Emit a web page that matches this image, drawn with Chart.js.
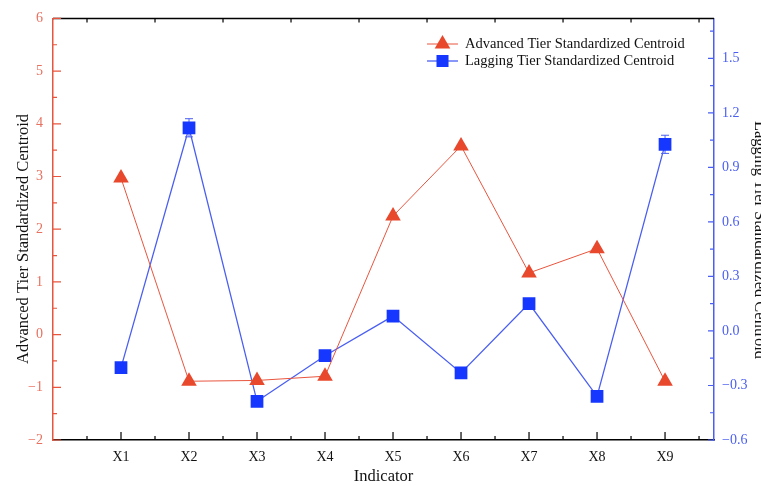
<!DOCTYPE html>
<html>
<head>
<meta charset="utf-8">
<script src="https://cdn.jsdelivr.net/npm/chart.js@4.4.1/dist/chart.umd.min.js"></script>
<style>
html,body{margin:0;padding:0;background:#fff;}
#wrap{width:761px;height:486px;position:relative;}
</style>
</head>
<body>
<div id="wrap"><canvas id="c"></canvas></div>
<script>
// ---- data ----
const categories = ['X1','X2','X3','X4','X5','X6','X7','X8','X9'];
const advancedValues = [2.97, -0.885, -0.87, -0.79, 2.25, 3.58, 1.17, 1.63, -0.885];
const laggingValues = [-0.202, 1.118, -0.387, -0.136, 0.082, -0.231, 0.151, -0.36, 1.027];
const laggingErrors = [0, 0.05, 0, 0, 0, 0, 0, 0, 0.05];
const leftTicks = [-2, -1, 0, 1, 2, 3, 4, 5, 6];
const rightTicks = [-0.6, -0.3, 0.0, 0.3, 0.6, 0.9, 1.2, 1.5];
const seriesNames = ['Advanced Tier Standardized Centroid', 'Lagging Tier Standardized Centroid'];
const axisTitles = {x: 'Indicator', left: 'Advanced Tier Standardized Centroid', right: 'Lagging Tier Standardized Centroid'};

const RED = '#e8553e', RED_PT = '#e8482c', RED_TXT = '#e8705e';
const BLUE = '#4a5ff2', BLUE_PT = '#1537ff', BLUE_TXT = '#4a5ef0';
const SERIF = '"Liberation Serif", "Times New Roman", serif';

const fmtMinus = s => String(s).replace('-', '\u2212');

const innerTicks = {
  id: 'innerTicks',
  beforeDatasetsDraw(chart) {
    // error bars (drawn under markers)
    const ctx = chart.ctx, x = chart.scales.x, yR = chart.scales.yR;
    ctx.save();
    ctx.strokeStyle = BLUE; ctx.lineWidth = 1;
    laggingValues.forEach((v, i) => {
      const e = laggingErrors[i];
      if (!e) return;
      const px = x.getPixelForValue(i + 1);
      const y1 = yR.getPixelForValue(v + e), y2 = yR.getPixelForValue(v - e);
      ctx.beginPath();
      ctx.moveTo(px, y1); ctx.lineTo(px, y2);
      ctx.moveTo(px - 4, y1); ctx.lineTo(px + 4, y1);
      ctx.moveTo(px - 4, y2); ctx.lineTo(px + 4, y2);
      ctx.stroke();
    });
    ctx.restore();
  },
  afterDraw(chart) {
    const ctx = chart.ctx;
    const {left, right, top, bottom} = chart.chartArea;
    const x = chart.scales.x, yL = chart.scales.yL, yR = chart.scales.yR;
    ctx.save();
    ctx.lineWidth = 1.5;
    // top border
    ctx.strokeStyle = '#000';
    ctx.beginPath(); ctx.moveTo(left, top); ctx.lineTo(right, top); ctx.stroke();
    // bottom ticks (inward)
    ctx.lineWidth = 1.2;
    ctx.beginPath();
    for (let i = 1; i <= categories.length; i++) {
      const px = x.getPixelForValue(i);
      ctx.moveTo(px, bottom); ctx.lineTo(px, bottom - 8);
    }
    for (let i = 0; i <= categories.length; i++) {
      const px = x.getPixelForValue(i + 0.5);
      ctx.moveTo(px, bottom); ctx.lineTo(px, bottom - 4);
      ctx.moveTo(px, top); ctx.lineTo(px, top + 4);
    }
    ctx.stroke();
    // left ticks
    ctx.strokeStyle = RED;
    ctx.beginPath();
    leftTicks.forEach(v => {
      const py = yL.getPixelForValue(v);
      ctx.moveTo(left, py); ctx.lineTo(left + 8, py);
      if (v < 6) {
        const pm = yL.getPixelForValue(v + 0.5);
        ctx.moveTo(left, pm); ctx.lineTo(left + 4, pm);
      }
    });
    ctx.stroke();
    // right ticks
    ctx.strokeStyle = BLUE;
    ctx.beginPath();
    rightTicks.forEach(v => {
      const py = yR.getPixelForValue(v);
      ctx.moveTo(right, py); ctx.lineTo(right - 6, py);
      const pm = yR.getPixelForValue(v + 0.15);
      if (pm > top) { ctx.moveTo(right, pm); ctx.lineTo(right - 4, pm); }
    });
    ctx.stroke();

    // axis titles (y)
    ctx.fillStyle = '#111';
    ctx.font = '16.5px ' + SERIF;
    ctx.textAlign = 'center';
    ctx.textBaseline = 'middle';
    ctx.save();
    ctx.translate(24, 239);
    ctx.rotate(-Math.PI / 2);
    ctx.fillText(axisTitles.left, 0, 0);
    ctx.restore();
    ctx.save();
    ctx.translate(759.5, 240);
    ctx.rotate(Math.PI / 2);
    ctx.fillText(axisTitles.right, 0, 0);
    ctx.restore();

    // legend
    const ds = chart.data.datasets;
    const lx0 = 427, lx1 = 458, tx = 465;
    const rows = [44, 61];
    ds.forEach((d, i) => {
      const cy = rows[i];
      ctx.strokeStyle = d.borderColor; ctx.lineWidth = d.borderWidth;
      ctx.beginPath(); ctx.moveTo(lx0, cy); ctx.lineTo(lx1, cy); ctx.stroke();
      ctx.fillStyle = d.pointBackgroundColor;
      const cx = (lx0 + lx1) / 2;
      if (d.pointStyle === 'triangle') {
        const r = 9;
        ctx.beginPath();
        ctx.moveTo(cx, cy - r);
        ctx.lineTo(cx + r * 0.866, cy + r / 2);
        ctx.lineTo(cx - r * 0.866, cy + r / 2);
        ctx.closePath(); ctx.fill();
      } else {
        ctx.fillRect(cx - 6, cy - 6, 12, 12);
      }
      ctx.fillStyle = '#111';
      ctx.font = '14.5px ' + SERIF;
      ctx.textBaseline = 'middle';
      ctx.textAlign = 'left';
      ctx.fillText(d.label, tx, cy + 0.5);
    });
    ctx.restore();
  }
};

const ctx = document.getElementById('c');
new Chart(ctx, {
  type: 'line',
  data: {
    datasets: [
      {
        label: seriesNames[0],
        data: advancedValues.map((v, i) => ({x: i + 1, y: v})),
        yAxisID: 'yL',
        borderColor: RED, borderWidth: 1,
        pointStyle: 'triangle', pointRadius: 9,
        pointBackgroundColor: RED_PT, pointBorderColor: RED_PT, pointBorderWidth: 0,
        tension: 0
      },
      {
        label: seriesNames[1],
        data: laggingValues.map((v, i) => ({x: i + 1, y: v})),
        yAxisID: 'yR',
        borderColor: BLUE, borderWidth: 1.3,
        pointStyle: 'rect', pointRadius: 9,
        pointBackgroundColor: BLUE_PT, pointBorderColor: BLUE_PT, pointBorderWidth: 0,
        tension: 0
      }
    ]
  },
  options: {
    responsive: true,
    maintainAspectRatio: false,
    devicePixelRatio: 1,
    animation: false,
    layout: {padding: {top: 15, left: 0, right: 0, bottom: 0}},
    plugins: {legend: {display: false}, tooltip: {enabled: false}},
    scales: {
      x: {
        type: 'linear', position: 'bottom', min: 0, max: 9.72,
        afterBuildTicks: s => { s.ticks = categories.map((c, i) => ({value: i + 1})); },
        afterFit: s => { s.height = 46; },
        grid: {display: false, drawTicks: false},
        border: {display: true, color: '#000', width: 1.5},
        ticks: {
          padding: 9, color: '#111', font: {family: SERIF, size: 14},
          maxRotation: 0, autoSkip: false,
          callback: v => categories[Math.round(v) - 1] || ''
        },
        title: {display: true, text: axisTitles.x, color: '#111', font: {family: SERIF, size: 16.5}, padding: {top: 0, bottom: -1}}
      },
      yL: {
        type: 'linear', position: 'left', min: -2, max: 6,
        afterBuildTicks: s => { s.ticks = leftTicks.map(v => ({value: v})); },
        afterFit: s => { s.width = 53; },
        grid: {display: false, drawTicks: false},
        border: {display: true, color: RED, width: 1.5},
        ticks: {padding: 10, color: RED_TXT, font: {family: SERIF, size: 14}, callback: v => fmtMinus(v)},
        title: {display: false}
      },
      yR: {
        type: 'linear', position: 'right', min: -0.6, max: 1.72,
        afterBuildTicks: s => { s.ticks = rightTicks.map(v => ({value: v})); },
        afterFit: s => { s.width = 47; },
        grid: {display: false, drawTicks: false},
        border: {display: true, color: BLUE, width: 1.5},
        ticks: {padding: 8, color: BLUE_TXT, font: {family: SERIF, size: 14}, callback: v => fmtMinus(Number(v).toFixed(1))},
        title: {display: false}
      }
    }
  },
  plugins: [innerTicks]
});
</script>
</body>
</html>
